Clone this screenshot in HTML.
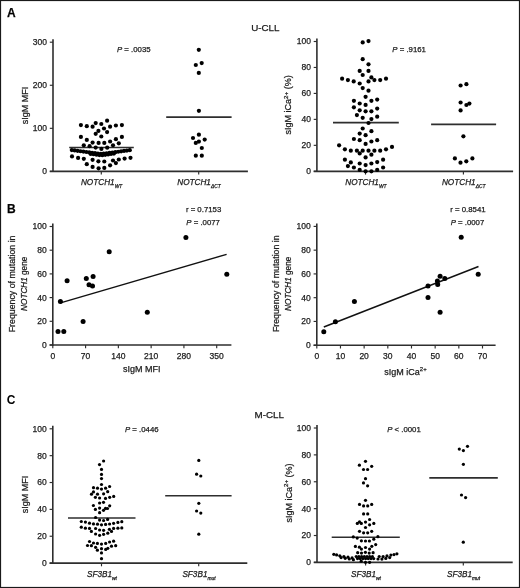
<!DOCTYPE html>
<html><head><meta charset="utf-8"><style>
html,body{margin:0;padding:0;background:#fff;}
svg{display:block;font-family:"Liberation Sans", sans-serif;will-change:transform;filter:blur(0.3px);}
text{stroke:#1c1c1c;stroke-width:0.25px;paint-order:fill;}
</style></head><body>
<svg width="520" height="588" viewBox="0 0 520 588">
<rect x="0.5" y="0.5" width="519" height="587" fill="#fff" stroke="#1a1a1a" stroke-width="1.2"/>
<text x="6.90" y="16.80" font-size="12" text-anchor="start" font-weight="bold" fill="#000">A</text>
<text x="7.00" y="213.00" font-size="12" text-anchor="start" font-weight="bold" fill="#000">B</text>
<text x="6.80" y="404.20" font-size="12" text-anchor="start" font-weight="bold" fill="#000" style="stroke-width:0">C</text>
<text x="265.30" y="31.30" font-size="9.8" text-anchor="middle" fill="#1c1c1c">U-CLL</text>
<text x="269.30" y="417.60" font-size="9.8" text-anchor="middle" fill="#1c1c1c">M-CLL</text>
<line x1="53.00" y1="39.20" x2="53.00" y2="172.10" stroke="#2e2e2e" stroke-width="1.6"/>
<line x1="49.80" y1="171.40" x2="53.00" y2="171.40" stroke="#2e2e2e" stroke-width="1.15"/>
<text x="47.00" y="174.30" font-size="8.5" text-anchor="end" fill="#1c1c1c">0</text>
<line x1="49.80" y1="128.33" x2="53.00" y2="128.33" stroke="#2e2e2e" stroke-width="1.15"/>
<text x="47.00" y="131.23" font-size="8.5" text-anchor="end" fill="#1c1c1c">100</text>
<line x1="49.80" y1="85.27" x2="53.00" y2="85.27" stroke="#2e2e2e" stroke-width="1.15"/>
<text x="47.00" y="88.17" font-size="8.5" text-anchor="end" fill="#1c1c1c">200</text>
<line x1="49.80" y1="42.20" x2="53.00" y2="42.20" stroke="#2e2e2e" stroke-width="1.15"/>
<text x="47.00" y="45.10" font-size="8.5" text-anchor="end" fill="#1c1c1c">300</text>
<line x1="49.80" y1="171.40" x2="247.90" y2="171.40" stroke="#2e2e2e" stroke-width="1.6"/>
<line x1="101.30" y1="171.40" x2="101.30" y2="174.60" stroke="#2e2e2e" stroke-width="1.15"/>
<line x1="198.70" y1="171.40" x2="198.70" y2="174.60" stroke="#2e2e2e" stroke-width="1.15"/>
<text x="27.60" y="105.60" font-size="9" text-anchor="middle" transform="rotate(-90 27.60 105.60)" fill="#1c1c1c">sIgM MFI</text>
<text x="117.00" y="52.00" font-size="7.8" text-anchor="start" fill="#1c1c1c"><tspan font-style="italic">P</tspan> = .0035</text>
<text x="101.60" y="184.60" font-size="8.2" text-anchor="middle" font-style="italic" fill="#1c1c1c">NOTCH1<tspan font-size="4.9" dy="3.0">WT</tspan></text>
<text x="199.00" y="184.60" font-size="8.2" text-anchor="middle" font-style="italic" fill="#1c1c1c">NOTCH1<tspan font-size="4.9" dy="3.0">ΔCT</tspan></text>
<line x1="69.20" y1="147.50" x2="133.80" y2="147.50" stroke="#2e2e2e" stroke-width="1.6"/>
<line x1="166.20" y1="117.10" x2="231.60" y2="117.10" stroke="#2e2e2e" stroke-width="1.6"/>
<circle cx="80.90" cy="125.10" r="2.1" fill="#000"/>
<circle cx="86.80" cy="126.20" r="2.1" fill="#000"/>
<circle cx="92.60" cy="126.70" r="2.1" fill="#000"/>
<circle cx="95.70" cy="123.10" r="2.1" fill="#000"/>
<circle cx="101.30" cy="124.00" r="2.1" fill="#000"/>
<circle cx="107.10" cy="120.70" r="2.1" fill="#000"/>
<circle cx="110.10" cy="126.70" r="2.1" fill="#000"/>
<circle cx="115.90" cy="125.50" r="2.1" fill="#000"/>
<circle cx="121.90" cy="125.10" r="2.1" fill="#000"/>
<circle cx="104.00" cy="128.50" r="2.1" fill="#000"/>
<circle cx="98.40" cy="130.90" r="2.1" fill="#000"/>
<circle cx="107.10" cy="132.10" r="2.1" fill="#000"/>
<circle cx="95.70" cy="133.80" r="2.1" fill="#000"/>
<circle cx="101.30" cy="136.50" r="2.1" fill="#000"/>
<circle cx="80.90" cy="136.90" r="2.1" fill="#000"/>
<circle cx="121.90" cy="136.90" r="2.1" fill="#000"/>
<circle cx="86.80" cy="139.90" r="2.1" fill="#000"/>
<circle cx="115.90" cy="139.20" r="2.1" fill="#000"/>
<circle cx="92.60" cy="142.60" r="2.1" fill="#000"/>
<circle cx="98.60" cy="142.90" r="2.1" fill="#000"/>
<circle cx="104.30" cy="142.90" r="2.1" fill="#000"/>
<circle cx="110.10" cy="141.50" r="2.1" fill="#000"/>
<circle cx="118.80" cy="143.30" r="2.1" fill="#000"/>
<circle cx="83.80" cy="145.30" r="2.1" fill="#000"/>
<circle cx="89.60" cy="146.20" r="2.1" fill="#000"/>
<circle cx="113.00" cy="145.30" r="2.1" fill="#000"/>
<circle cx="95.70" cy="147.60" r="2.1" fill="#000"/>
<circle cx="101.40" cy="148.90" r="2.1" fill="#000"/>
<circle cx="107.20" cy="147.70" r="2.1" fill="#000"/>
<circle cx="72.00" cy="156.40" r="2.1" fill="#000"/>
<circle cx="78.10" cy="157.90" r="2.1" fill="#000"/>
<circle cx="83.80" cy="158.80" r="2.1" fill="#000"/>
<circle cx="92.60" cy="159.80" r="2.1" fill="#000"/>
<circle cx="98.40" cy="161.30" r="2.1" fill="#000"/>
<circle cx="104.30" cy="161.50" r="2.1" fill="#000"/>
<circle cx="113.00" cy="160.50" r="2.1" fill="#000"/>
<circle cx="118.80" cy="159.50" r="2.1" fill="#000"/>
<circle cx="124.60" cy="158.60" r="2.1" fill="#000"/>
<circle cx="130.50" cy="157.80" r="2.1" fill="#000"/>
<circle cx="86.80" cy="164.20" r="2.1" fill="#000"/>
<circle cx="110.10" cy="165.30" r="2.1" fill="#000"/>
<circle cx="115.90" cy="163.10" r="2.1" fill="#000"/>
<circle cx="92.60" cy="166.90" r="2.1" fill="#000"/>
<circle cx="98.60" cy="168.30" r="2.1" fill="#000"/>
<circle cx="104.30" cy="167.90" r="2.1" fill="#000"/>
<circle cx="71.80" cy="150.07" r="2.1" fill="#000"/>
<circle cx="74.70" cy="150.45" r="2.1" fill="#000"/>
<circle cx="77.60" cy="150.84" r="2.1" fill="#000"/>
<circle cx="80.50" cy="151.23" r="2.1" fill="#000"/>
<circle cx="83.40" cy="151.61" r="2.1" fill="#000"/>
<circle cx="86.30" cy="152.00" r="2.1" fill="#000"/>
<circle cx="89.20" cy="152.39" r="2.1" fill="#000"/>
<circle cx="90.70" cy="153.89" r="2.1" fill="#000"/>
<circle cx="92.10" cy="152.77" r="2.1" fill="#000"/>
<circle cx="93.60" cy="154.27" r="2.1" fill="#000"/>
<circle cx="95.00" cy="153.16" r="2.1" fill="#000"/>
<circle cx="96.50" cy="154.66" r="2.1" fill="#000"/>
<circle cx="97.90" cy="153.55" r="2.1" fill="#000"/>
<circle cx="99.40" cy="155.05" r="2.1" fill="#000"/>
<circle cx="100.80" cy="153.93" r="2.1" fill="#000"/>
<circle cx="102.30" cy="155.17" r="2.1" fill="#000"/>
<circle cx="103.70" cy="153.68" r="2.1" fill="#000"/>
<circle cx="105.20" cy="154.78" r="2.1" fill="#000"/>
<circle cx="106.60" cy="153.29" r="2.1" fill="#000"/>
<circle cx="108.10" cy="154.39" r="2.1" fill="#000"/>
<circle cx="109.50" cy="152.91" r="2.1" fill="#000"/>
<circle cx="111.00" cy="154.01" r="2.1" fill="#000"/>
<circle cx="112.40" cy="152.52" r="2.1" fill="#000"/>
<circle cx="113.90" cy="153.62" r="2.1" fill="#000"/>
<circle cx="115.30" cy="152.13" r="2.1" fill="#000"/>
<circle cx="118.20" cy="151.75" r="2.1" fill="#000"/>
<circle cx="121.10" cy="151.36" r="2.1" fill="#000"/>
<circle cx="124.00" cy="150.97" r="2.1" fill="#000"/>
<circle cx="126.90" cy="150.59" r="2.1" fill="#000"/>
<circle cx="129.80" cy="150.20" r="2.1" fill="#000"/>
<circle cx="198.80" cy="49.80" r="2.1" fill="#000"/>
<circle cx="195.80" cy="65.00" r="2.1" fill="#000"/>
<circle cx="201.70" cy="63.10" r="2.1" fill="#000"/>
<circle cx="198.80" cy="72.90" r="2.1" fill="#000"/>
<circle cx="198.90" cy="110.80" r="2.1" fill="#000"/>
<circle cx="198.90" cy="134.70" r="2.1" fill="#000"/>
<circle cx="193.00" cy="138.00" r="2.1" fill="#000"/>
<circle cx="204.70" cy="139.60" r="2.1" fill="#000"/>
<circle cx="195.80" cy="142.90" r="2.1" fill="#000"/>
<circle cx="198.90" cy="141.60" r="2.1" fill="#000"/>
<circle cx="201.80" cy="148.00" r="2.1" fill="#000"/>
<circle cx="195.80" cy="155.70" r="2.1" fill="#000"/>
<circle cx="201.80" cy="155.70" r="2.1" fill="#000"/>
<line x1="316.90" y1="38.50" x2="316.90" y2="172.00" stroke="#2e2e2e" stroke-width="1.6"/>
<line x1="313.70" y1="171.30" x2="316.90" y2="171.30" stroke="#2e2e2e" stroke-width="1.15"/>
<text x="310.90" y="174.20" font-size="8.5" text-anchor="end" fill="#1c1c1c">0</text>
<line x1="313.70" y1="145.34" x2="316.90" y2="145.34" stroke="#2e2e2e" stroke-width="1.15"/>
<text x="310.90" y="148.24" font-size="8.5" text-anchor="end" fill="#1c1c1c">20</text>
<line x1="313.70" y1="119.38" x2="316.90" y2="119.38" stroke="#2e2e2e" stroke-width="1.15"/>
<text x="310.90" y="122.28" font-size="8.5" text-anchor="end" fill="#1c1c1c">40</text>
<line x1="313.70" y1="93.42" x2="316.90" y2="93.42" stroke="#2e2e2e" stroke-width="1.15"/>
<text x="310.90" y="96.32" font-size="8.5" text-anchor="end" fill="#1c1c1c">60</text>
<line x1="313.70" y1="67.46" x2="316.90" y2="67.46" stroke="#2e2e2e" stroke-width="1.15"/>
<text x="310.90" y="70.36" font-size="8.5" text-anchor="end" fill="#1c1c1c">80</text>
<line x1="313.70" y1="41.50" x2="316.90" y2="41.50" stroke="#2e2e2e" stroke-width="1.15"/>
<text x="310.90" y="44.40" font-size="8.5" text-anchor="end" fill="#1c1c1c">100</text>
<line x1="313.70" y1="171.40" x2="513.10" y2="171.40" stroke="#2e2e2e" stroke-width="1.6"/>
<line x1="365.50" y1="171.40" x2="365.50" y2="174.60" stroke="#2e2e2e" stroke-width="1.15"/>
<line x1="463.40" y1="171.40" x2="463.40" y2="174.60" stroke="#2e2e2e" stroke-width="1.15"/>
<text x="291.40" y="104.90" font-size="9" text-anchor="middle" transform="rotate(-90 291.40 104.90)" fill="#1c1c1c">sIgM iCa<tspan font-size="6.2" dy="-3.6">2+</tspan><tspan dy="3.6"> (%)</tspan></text>
<text x="392.30" y="51.90" font-size="7.8" text-anchor="start" fill="#1c1c1c"><tspan font-style="italic">P</tspan> = .9161</text>
<text x="365.90" y="184.60" font-size="8.2" text-anchor="middle" font-style="italic" fill="#1c1c1c">NOTCH1<tspan font-size="4.9" dy="3.0">WT</tspan></text>
<text x="463.70" y="184.60" font-size="8.2" text-anchor="middle" font-style="italic" fill="#1c1c1c">NOTCH1<tspan font-size="4.9" dy="3.0">ΔCT</tspan></text>
<line x1="333.00" y1="122.60" x2="398.80" y2="122.60" stroke="#2e2e2e" stroke-width="1.6"/>
<line x1="431.10" y1="124.40" x2="496.10" y2="124.40" stroke="#2e2e2e" stroke-width="1.6"/>
<circle cx="362.70" cy="42.40" r="2.1" fill="#000"/>
<circle cx="368.50" cy="41.10" r="2.1" fill="#000"/>
<circle cx="362.70" cy="59.20" r="2.1" fill="#000"/>
<circle cx="368.50" cy="64.30" r="2.1" fill="#000"/>
<circle cx="359.70" cy="70.90" r="2.1" fill="#000"/>
<circle cx="368.50" cy="70.90" r="2.1" fill="#000"/>
<circle cx="362.70" cy="75.00" r="2.1" fill="#000"/>
<circle cx="342.10" cy="78.70" r="2.1" fill="#000"/>
<circle cx="347.90" cy="80.10" r="2.1" fill="#000"/>
<circle cx="353.70" cy="81.40" r="2.1" fill="#000"/>
<circle cx="359.70" cy="83.50" r="2.1" fill="#000"/>
<circle cx="368.50" cy="81.40" r="2.1" fill="#000"/>
<circle cx="371.40" cy="77.40" r="2.1" fill="#000"/>
<circle cx="374.40" cy="80.10" r="2.1" fill="#000"/>
<circle cx="380.20" cy="80.10" r="2.1" fill="#000"/>
<circle cx="386.00" cy="78.70" r="2.1" fill="#000"/>
<circle cx="362.70" cy="88.10" r="2.1" fill="#000"/>
<circle cx="368.50" cy="90.70" r="2.1" fill="#000"/>
<circle cx="365.60" cy="96.80" r="2.1" fill="#000"/>
<circle cx="353.90" cy="100.80" r="2.1" fill="#000"/>
<circle cx="371.40" cy="100.80" r="2.1" fill="#000"/>
<circle cx="377.20" cy="99.60" r="2.1" fill="#000"/>
<circle cx="359.70" cy="103.50" r="2.1" fill="#000"/>
<circle cx="365.60" cy="104.90" r="2.1" fill="#000"/>
<circle cx="353.90" cy="107.30" r="2.1" fill="#000"/>
<circle cx="377.20" cy="108.60" r="2.1" fill="#000"/>
<circle cx="359.70" cy="110.30" r="2.1" fill="#000"/>
<circle cx="365.60" cy="111.30" r="2.1" fill="#000"/>
<circle cx="371.40" cy="111.30" r="2.1" fill="#000"/>
<circle cx="356.90" cy="115.10" r="2.1" fill="#000"/>
<circle cx="362.70" cy="117.80" r="2.1" fill="#000"/>
<circle cx="371.40" cy="119.10" r="2.1" fill="#000"/>
<circle cx="377.20" cy="116.70" r="2.1" fill="#000"/>
<circle cx="368.50" cy="123.00" r="2.1" fill="#000"/>
<circle cx="362.70" cy="128.50" r="2.1" fill="#000"/>
<circle cx="371.40" cy="131.20" r="2.1" fill="#000"/>
<circle cx="359.70" cy="133.60" r="2.1" fill="#000"/>
<circle cx="365.60" cy="135.20" r="2.1" fill="#000"/>
<circle cx="353.90" cy="139.00" r="2.1" fill="#000"/>
<circle cx="359.70" cy="140.20" r="2.1" fill="#000"/>
<circle cx="371.40" cy="141.50" r="2.1" fill="#000"/>
<circle cx="377.20" cy="140.20" r="2.1" fill="#000"/>
<circle cx="365.60" cy="143.90" r="2.1" fill="#000"/>
<circle cx="339.10" cy="145.30" r="2.1" fill="#000"/>
<circle cx="392.00" cy="146.90" r="2.1" fill="#000"/>
<circle cx="344.90" cy="149.30" r="2.1" fill="#000"/>
<circle cx="350.80" cy="150.70" r="2.1" fill="#000"/>
<circle cx="356.90" cy="150.70" r="2.1" fill="#000"/>
<circle cx="359.70" cy="153.40" r="2.1" fill="#000"/>
<circle cx="362.70" cy="150.70" r="2.1" fill="#000"/>
<circle cx="368.50" cy="150.70" r="2.1" fill="#000"/>
<circle cx="374.40" cy="150.70" r="2.1" fill="#000"/>
<circle cx="380.20" cy="150.70" r="2.1" fill="#000"/>
<circle cx="386.00" cy="149.30" r="2.1" fill="#000"/>
<circle cx="371.40" cy="154.70" r="2.1" fill="#000"/>
<circle cx="365.60" cy="157.40" r="2.1" fill="#000"/>
<circle cx="344.90" cy="159.70" r="2.1" fill="#000"/>
<circle cx="350.80" cy="162.40" r="2.1" fill="#000"/>
<circle cx="359.70" cy="163.50" r="2.1" fill="#000"/>
<circle cx="365.60" cy="165.10" r="2.1" fill="#000"/>
<circle cx="371.40" cy="163.50" r="2.1" fill="#000"/>
<circle cx="377.20" cy="162.10" r="2.1" fill="#000"/>
<circle cx="383.10" cy="159.70" r="2.1" fill="#000"/>
<circle cx="347.90" cy="166.10" r="2.1" fill="#000"/>
<circle cx="353.90" cy="167.50" r="2.1" fill="#000"/>
<circle cx="383.10" cy="167.50" r="2.1" fill="#000"/>
<circle cx="359.70" cy="169.90" r="2.1" fill="#000"/>
<circle cx="365.60" cy="171.30" r="2.1" fill="#000"/>
<circle cx="371.40" cy="171.30" r="2.1" fill="#000"/>
<circle cx="377.20" cy="169.90" r="2.1" fill="#000"/>
<circle cx="460.60" cy="85.50" r="2.1" fill="#000"/>
<circle cx="466.40" cy="84.20" r="2.1" fill="#000"/>
<circle cx="460.60" cy="102.50" r="2.1" fill="#000"/>
<circle cx="466.40" cy="105.00" r="2.1" fill="#000"/>
<circle cx="469.40" cy="103.60" r="2.1" fill="#000"/>
<circle cx="460.60" cy="110.40" r="2.1" fill="#000"/>
<circle cx="463.40" cy="136.30" r="2.1" fill="#000"/>
<circle cx="454.90" cy="158.40" r="2.1" fill="#000"/>
<circle cx="460.50" cy="162.70" r="2.1" fill="#000"/>
<circle cx="466.30" cy="161.30" r="2.1" fill="#000"/>
<circle cx="472.40" cy="158.40" r="2.1" fill="#000"/>
<line x1="52.80" y1="223.50" x2="52.80" y2="345.70" stroke="#2e2e2e" stroke-width="1.6"/>
<line x1="49.60" y1="345.00" x2="52.80" y2="345.00" stroke="#2e2e2e" stroke-width="1.15"/>
<text x="46.80" y="347.90" font-size="8.5" text-anchor="end" fill="#1c1c1c">0</text>
<line x1="49.60" y1="321.30" x2="52.80" y2="321.30" stroke="#2e2e2e" stroke-width="1.15"/>
<text x="46.80" y="324.20" font-size="8.5" text-anchor="end" fill="#1c1c1c">20</text>
<line x1="49.60" y1="297.60" x2="52.80" y2="297.60" stroke="#2e2e2e" stroke-width="1.15"/>
<text x="46.80" y="300.50" font-size="8.5" text-anchor="end" fill="#1c1c1c">40</text>
<line x1="49.60" y1="273.90" x2="52.80" y2="273.90" stroke="#2e2e2e" stroke-width="1.15"/>
<text x="46.80" y="276.80" font-size="8.5" text-anchor="end" fill="#1c1c1c">60</text>
<line x1="49.60" y1="250.20" x2="52.80" y2="250.20" stroke="#2e2e2e" stroke-width="1.15"/>
<text x="46.80" y="253.10" font-size="8.5" text-anchor="end" fill="#1c1c1c">80</text>
<line x1="49.60" y1="226.50" x2="52.80" y2="226.50" stroke="#2e2e2e" stroke-width="1.15"/>
<text x="46.80" y="229.40" font-size="8.5" text-anchor="end" fill="#1c1c1c">100</text>
<line x1="49.60" y1="345.00" x2="231.40" y2="345.00" stroke="#2e2e2e" stroke-width="1.6"/>
<line x1="52.80" y1="345.00" x2="52.80" y2="348.20" stroke="#2e2e2e" stroke-width="1.15"/>
<line x1="85.58" y1="345.00" x2="85.58" y2="348.20" stroke="#2e2e2e" stroke-width="1.15"/>
<line x1="118.36" y1="345.00" x2="118.36" y2="348.20" stroke="#2e2e2e" stroke-width="1.15"/>
<line x1="151.14" y1="345.00" x2="151.14" y2="348.20" stroke="#2e2e2e" stroke-width="1.15"/>
<line x1="183.92" y1="345.00" x2="183.92" y2="348.20" stroke="#2e2e2e" stroke-width="1.15"/>
<line x1="216.70" y1="345.00" x2="216.70" y2="348.20" stroke="#2e2e2e" stroke-width="1.15"/>
<text x="52.80" y="358.60" font-size="8.5" text-anchor="middle" fill="#1c1c1c">0</text>
<text x="85.58" y="358.60" font-size="8.5" text-anchor="middle" fill="#1c1c1c">70</text>
<text x="118.36" y="358.60" font-size="8.5" text-anchor="middle" fill="#1c1c1c">140</text>
<text x="151.14" y="358.60" font-size="8.5" text-anchor="middle" fill="#1c1c1c">210</text>
<text x="183.92" y="358.60" font-size="8.5" text-anchor="middle" fill="#1c1c1c">280</text>
<text x="216.70" y="358.60" font-size="8.5" text-anchor="middle" fill="#1c1c1c">350</text>
<text x="141.80" y="372.00" font-size="9" text-anchor="middle" fill="#1c1c1c">sIgM MFI</text>
<text x="15.50" y="283.90" font-size="8.8" text-anchor="middle" transform="rotate(-90 15.50 283.90)" fill="#1c1c1c">Frequency of mutation in</text>
<text x="27.20" y="283.80" font-size="8.2" text-anchor="middle" transform="rotate(-90 27.20 283.80)" fill="#1c1c1c"><tspan font-style="italic">NOTCH1</tspan> gene</text>
<text x="185.90" y="212.00" font-size="7.8" text-anchor="start" fill="#1c1c1c">r = 0.7153</text>
<text x="186.30" y="225.40" font-size="7.8" text-anchor="start" fill="#1c1c1c"><tspan font-style="italic">P</tspan> = .0077</text>
<line x1="60.50" y1="302.90" x2="226.60" y2="254.40" stroke="#111" stroke-width="1.5"/>
<circle cx="185.90" cy="237.50" r="2.5" fill="#000"/>
<circle cx="109.20" cy="251.80" r="2.5" fill="#000"/>
<circle cx="226.80" cy="274.30" r="2.5" fill="#000"/>
<circle cx="67.10" cy="280.80" r="2.5" fill="#000"/>
<circle cx="86.30" cy="278.50" r="2.5" fill="#000"/>
<circle cx="93.10" cy="276.50" r="2.5" fill="#000"/>
<circle cx="89.00" cy="284.80" r="2.5" fill="#000"/>
<circle cx="92.50" cy="286.10" r="2.5" fill="#000"/>
<circle cx="60.40" cy="301.40" r="2.5" fill="#000"/>
<circle cx="147.30" cy="312.20" r="2.5" fill="#000"/>
<circle cx="83.10" cy="321.60" r="2.5" fill="#000"/>
<circle cx="58.00" cy="331.60" r="2.5" fill="#000"/>
<circle cx="63.80" cy="331.60" r="2.5" fill="#000"/>
<line x1="316.80" y1="223.40" x2="316.80" y2="345.90" stroke="#2e2e2e" stroke-width="1.6"/>
<line x1="313.60" y1="345.20" x2="316.80" y2="345.20" stroke="#2e2e2e" stroke-width="1.15"/>
<text x="310.80" y="348.10" font-size="8.5" text-anchor="end" fill="#1c1c1c">0</text>
<line x1="313.60" y1="321.44" x2="316.80" y2="321.44" stroke="#2e2e2e" stroke-width="1.15"/>
<text x="310.80" y="324.34" font-size="8.5" text-anchor="end" fill="#1c1c1c">20</text>
<line x1="313.60" y1="297.68" x2="316.80" y2="297.68" stroke="#2e2e2e" stroke-width="1.15"/>
<text x="310.80" y="300.58" font-size="8.5" text-anchor="end" fill="#1c1c1c">40</text>
<line x1="313.60" y1="273.92" x2="316.80" y2="273.92" stroke="#2e2e2e" stroke-width="1.15"/>
<text x="310.80" y="276.82" font-size="8.5" text-anchor="end" fill="#1c1c1c">60</text>
<line x1="313.60" y1="250.16" x2="316.80" y2="250.16" stroke="#2e2e2e" stroke-width="1.15"/>
<text x="310.80" y="253.06" font-size="8.5" text-anchor="end" fill="#1c1c1c">80</text>
<line x1="313.60" y1="226.40" x2="316.80" y2="226.40" stroke="#2e2e2e" stroke-width="1.15"/>
<text x="310.80" y="229.30" font-size="8.5" text-anchor="end" fill="#1c1c1c">100</text>
<line x1="313.60" y1="345.30" x2="495.60" y2="345.30" stroke="#2e2e2e" stroke-width="1.6"/>
<line x1="316.80" y1="345.30" x2="316.80" y2="348.50" stroke="#2e2e2e" stroke-width="1.15"/>
<line x1="340.47" y1="345.30" x2="340.47" y2="348.50" stroke="#2e2e2e" stroke-width="1.15"/>
<line x1="364.14" y1="345.30" x2="364.14" y2="348.50" stroke="#2e2e2e" stroke-width="1.15"/>
<line x1="387.81" y1="345.30" x2="387.81" y2="348.50" stroke="#2e2e2e" stroke-width="1.15"/>
<line x1="411.49" y1="345.30" x2="411.49" y2="348.50" stroke="#2e2e2e" stroke-width="1.15"/>
<line x1="435.16" y1="345.30" x2="435.16" y2="348.50" stroke="#2e2e2e" stroke-width="1.15"/>
<line x1="458.83" y1="345.30" x2="458.83" y2="348.50" stroke="#2e2e2e" stroke-width="1.15"/>
<line x1="482.50" y1="345.30" x2="482.50" y2="348.50" stroke="#2e2e2e" stroke-width="1.15"/>
<text x="316.80" y="358.60" font-size="8.5" text-anchor="middle" fill="#1c1c1c">0</text>
<text x="340.47" y="358.60" font-size="8.5" text-anchor="middle" fill="#1c1c1c">10</text>
<text x="364.14" y="358.60" font-size="8.5" text-anchor="middle" fill="#1c1c1c">20</text>
<text x="387.81" y="358.60" font-size="8.5" text-anchor="middle" fill="#1c1c1c">30</text>
<text x="411.49" y="358.60" font-size="8.5" text-anchor="middle" fill="#1c1c1c">40</text>
<text x="435.16" y="358.60" font-size="8.5" text-anchor="middle" fill="#1c1c1c">50</text>
<text x="458.83" y="358.60" font-size="8.5" text-anchor="middle" fill="#1c1c1c">60</text>
<text x="482.50" y="358.60" font-size="8.5" text-anchor="middle" fill="#1c1c1c">70</text>
<text x="405.50" y="375.00" font-size="9" text-anchor="middle" fill="#1c1c1c">sIgM iCa<tspan font-size="6" dy="-3.6">2+</tspan></text>
<text x="279.50" y="283.70" font-size="8.8" text-anchor="middle" transform="rotate(-90 279.50 283.70)" fill="#1c1c1c">Frequency of mutation in</text>
<text x="291.20" y="283.80" font-size="8.2" text-anchor="middle" transform="rotate(-90 291.20 283.80)" fill="#1c1c1c"><tspan font-style="italic">NOTCH1</tspan> gene</text>
<text x="450.30" y="211.50" font-size="7.8" text-anchor="start" fill="#1c1c1c">r = 0.8541</text>
<text x="450.70" y="225.30" font-size="7.8" text-anchor="start" fill="#1c1c1c"><tspan font-style="italic">P</tspan> = .0007</text>
<line x1="323.80" y1="327.00" x2="478.50" y2="266.50" stroke="#111" stroke-width="1.5"/>
<circle cx="461.20" cy="237.30" r="2.5" fill="#000"/>
<circle cx="478.20" cy="274.30" r="2.5" fill="#000"/>
<circle cx="428.00" cy="286.10" r="2.5" fill="#000"/>
<circle cx="428.00" cy="297.50" r="2.5" fill="#000"/>
<circle cx="440.10" cy="276.20" r="2.5" fill="#000"/>
<circle cx="444.80" cy="278.60" r="2.5" fill="#000"/>
<circle cx="437.40" cy="281.00" r="2.5" fill="#000"/>
<circle cx="437.70" cy="284.60" r="2.5" fill="#000"/>
<circle cx="440.10" cy="312.20" r="2.5" fill="#000"/>
<circle cx="354.40" cy="301.60" r="2.5" fill="#000"/>
<circle cx="335.40" cy="321.70" r="2.5" fill="#000"/>
<circle cx="323.80" cy="331.70" r="2.5" fill="#000"/>
<line x1="52.80" y1="425.80" x2="52.80" y2="563.80" stroke="#2e2e2e" stroke-width="1.6"/>
<line x1="49.60" y1="563.10" x2="52.80" y2="563.10" stroke="#2e2e2e" stroke-width="1.15"/>
<text x="46.80" y="566.00" font-size="8.5" text-anchor="end" fill="#1c1c1c">0</text>
<line x1="49.60" y1="536.24" x2="52.80" y2="536.24" stroke="#2e2e2e" stroke-width="1.15"/>
<text x="46.80" y="539.14" font-size="8.5" text-anchor="end" fill="#1c1c1c">20</text>
<line x1="49.60" y1="509.38" x2="52.80" y2="509.38" stroke="#2e2e2e" stroke-width="1.15"/>
<text x="46.80" y="512.28" font-size="8.5" text-anchor="end" fill="#1c1c1c">40</text>
<line x1="49.60" y1="482.52" x2="52.80" y2="482.52" stroke="#2e2e2e" stroke-width="1.15"/>
<text x="46.80" y="485.42" font-size="8.5" text-anchor="end" fill="#1c1c1c">60</text>
<line x1="49.60" y1="455.66" x2="52.80" y2="455.66" stroke="#2e2e2e" stroke-width="1.15"/>
<text x="46.80" y="458.56" font-size="8.5" text-anchor="end" fill="#1c1c1c">80</text>
<line x1="49.60" y1="428.80" x2="52.80" y2="428.80" stroke="#2e2e2e" stroke-width="1.15"/>
<text x="46.80" y="431.70" font-size="8.5" text-anchor="end" fill="#1c1c1c">100</text>
<line x1="49.60" y1="563.10" x2="247.30" y2="563.10" stroke="#2e2e2e" stroke-width="1.6"/>
<line x1="101.50" y1="563.10" x2="101.50" y2="566.30" stroke="#2e2e2e" stroke-width="1.15"/>
<line x1="198.70" y1="563.10" x2="198.70" y2="566.30" stroke="#2e2e2e" stroke-width="1.15"/>
<text x="27.80" y="494.50" font-size="9" text-anchor="middle" transform="rotate(-90 27.80 494.50)" fill="#1c1c1c">sIgM MFI</text>
<text x="125.00" y="431.70" font-size="7.8" text-anchor="start" fill="#1c1c1c"><tspan font-style="italic">P</tspan> = .0446</text>
<text x="101.90" y="576.60" font-size="8.2" text-anchor="middle" font-style="italic" fill="#1c1c1c">SF3B1<tspan font-size="4.9" dy="3.0">wt</tspan></text>
<text x="199.00" y="576.60" font-size="8.2" text-anchor="middle" font-style="italic" fill="#1c1c1c">SF3B1<tspan font-size="4.9" dy="3.0">mut</tspan></text>
<line x1="68.00" y1="518.00" x2="135.50" y2="518.00" stroke="#2e2e2e" stroke-width="1.6"/>
<line x1="165.20" y1="495.70" x2="231.60" y2="495.70" stroke="#2e2e2e" stroke-width="1.6"/>
<circle cx="103.60" cy="461.00" r="1.6" fill="#000"/>
<circle cx="99.50" cy="464.60" r="1.6" fill="#000"/>
<circle cx="101.50" cy="469.40" r="1.6" fill="#000"/>
<circle cx="101.50" cy="474.40" r="1.6" fill="#000"/>
<circle cx="101.50" cy="478.60" r="1.6" fill="#000"/>
<circle cx="101.50" cy="484.50" r="1.6" fill="#000"/>
<circle cx="93.50" cy="487.70" r="1.6" fill="#000"/>
<circle cx="97.50" cy="488.20" r="1.6" fill="#000"/>
<circle cx="101.50" cy="489.10" r="1.6" fill="#000"/>
<circle cx="105.60" cy="488.20" r="1.6" fill="#000"/>
<circle cx="109.60" cy="486.50" r="1.6" fill="#000"/>
<circle cx="93.50" cy="491.90" r="1.6" fill="#000"/>
<circle cx="107.70" cy="491.70" r="1.6" fill="#000"/>
<circle cx="91.50" cy="494.20" r="1.6" fill="#000"/>
<circle cx="97.50" cy="494.20" r="1.6" fill="#000"/>
<circle cx="103.60" cy="493.80" r="1.6" fill="#000"/>
<circle cx="95.40" cy="497.30" r="1.6" fill="#000"/>
<circle cx="99.60" cy="498.00" r="1.6" fill="#000"/>
<circle cx="105.50" cy="498.40" r="1.6" fill="#000"/>
<circle cx="109.70" cy="497.30" r="1.6" fill="#000"/>
<circle cx="113.70" cy="496.40" r="1.6" fill="#000"/>
<circle cx="99.60" cy="503.00" r="1.6" fill="#000"/>
<circle cx="103.50" cy="502.30" r="1.6" fill="#000"/>
<circle cx="93.40" cy="505.50" r="1.6" fill="#000"/>
<circle cx="109.70" cy="505.80" r="1.6" fill="#000"/>
<circle cx="99.60" cy="508.10" r="1.6" fill="#000"/>
<circle cx="95.40" cy="509.40" r="1.6" fill="#000"/>
<circle cx="105.50" cy="508.40" r="1.6" fill="#000"/>
<circle cx="107.50" cy="508.50" r="1.6" fill="#000"/>
<circle cx="103.50" cy="510.30" r="1.6" fill="#000"/>
<circle cx="99.60" cy="512.70" r="1.6" fill="#000"/>
<circle cx="95.60" cy="517.50" r="1.6" fill="#000"/>
<circle cx="99.60" cy="520.10" r="1.6" fill="#000"/>
<circle cx="103.60" cy="520.50" r="1.6" fill="#000"/>
<circle cx="107.60" cy="519.40" r="1.6" fill="#000"/>
<circle cx="81.30" cy="521.50" r="1.6" fill="#000"/>
<circle cx="85.40" cy="522.10" r="1.6" fill="#000"/>
<circle cx="89.50" cy="523.20" r="1.6" fill="#000"/>
<circle cx="93.50" cy="523.90" r="1.6" fill="#000"/>
<circle cx="97.50" cy="524.20" r="1.6" fill="#000"/>
<circle cx="101.50" cy="524.80" r="1.6" fill="#000"/>
<circle cx="105.60" cy="524.40" r="1.6" fill="#000"/>
<circle cx="109.60" cy="524.00" r="1.6" fill="#000"/>
<circle cx="113.60" cy="523.30" r="1.6" fill="#000"/>
<circle cx="117.90" cy="522.40" r="1.6" fill="#000"/>
<circle cx="121.80" cy="521.70" r="1.6" fill="#000"/>
<circle cx="81.30" cy="527.20" r="1.6" fill="#000"/>
<circle cx="85.40" cy="528.20" r="1.6" fill="#000"/>
<circle cx="89.50" cy="528.40" r="1.6" fill="#000"/>
<circle cx="91.40" cy="531.40" r="1.6" fill="#000"/>
<circle cx="95.60" cy="528.50" r="1.6" fill="#000"/>
<circle cx="99.60" cy="530.00" r="1.6" fill="#000"/>
<circle cx="103.60" cy="530.30" r="1.6" fill="#000"/>
<circle cx="109.40" cy="529.30" r="1.6" fill="#000"/>
<circle cx="111.50" cy="531.40" r="1.6" fill="#000"/>
<circle cx="113.60" cy="528.40" r="1.6" fill="#000"/>
<circle cx="117.90" cy="528.20" r="1.6" fill="#000"/>
<circle cx="121.80" cy="527.90" r="1.6" fill="#000"/>
<circle cx="95.60" cy="534.00" r="1.6" fill="#000"/>
<circle cx="99.60" cy="535.30" r="1.6" fill="#000"/>
<circle cx="103.60" cy="534.30" r="1.6" fill="#000"/>
<circle cx="107.80" cy="533.20" r="1.6" fill="#000"/>
<circle cx="89.50" cy="541.50" r="1.6" fill="#000"/>
<circle cx="93.50" cy="543.00" r="1.6" fill="#000"/>
<circle cx="97.40" cy="543.40" r="1.6" fill="#000"/>
<circle cx="101.50" cy="544.10" r="1.6" fill="#000"/>
<circle cx="105.70" cy="543.40" r="1.6" fill="#000"/>
<circle cx="109.60" cy="542.00" r="1.6" fill="#000"/>
<circle cx="113.60" cy="541.20" r="1.6" fill="#000"/>
<circle cx="87.50" cy="545.50" r="1.6" fill="#000"/>
<circle cx="91.40" cy="545.70" r="1.6" fill="#000"/>
<circle cx="115.70" cy="545.70" r="1.6" fill="#000"/>
<circle cx="111.50" cy="546.20" r="1.6" fill="#000"/>
<circle cx="95.60" cy="547.30" r="1.6" fill="#000"/>
<circle cx="101.50" cy="548.70" r="1.6" fill="#000"/>
<circle cx="105.70" cy="549.40" r="1.6" fill="#000"/>
<circle cx="107.80" cy="548.30" r="1.6" fill="#000"/>
<circle cx="97.40" cy="550.20" r="1.6" fill="#000"/>
<circle cx="101.50" cy="552.90" r="1.6" fill="#000"/>
<circle cx="101.50" cy="558.70" r="1.6" fill="#000"/>
<circle cx="198.80" cy="460.40" r="1.6" fill="#000"/>
<circle cx="196.60" cy="474.20" r="1.6" fill="#000"/>
<circle cx="200.80" cy="476.00" r="1.6" fill="#000"/>
<circle cx="198.80" cy="503.30" r="1.6" fill="#000"/>
<circle cx="196.60" cy="511.00" r="1.6" fill="#000"/>
<circle cx="200.80" cy="513.10" r="1.6" fill="#000"/>
<circle cx="198.80" cy="534.20" r="1.6" fill="#000"/>
<line x1="317.00" y1="425.00" x2="317.00" y2="563.10" stroke="#2e2e2e" stroke-width="1.6"/>
<line x1="313.80" y1="562.40" x2="317.00" y2="562.40" stroke="#2e2e2e" stroke-width="1.15"/>
<text x="311.00" y="565.30" font-size="8.5" text-anchor="end" fill="#1c1c1c">0</text>
<line x1="313.80" y1="535.52" x2="317.00" y2="535.52" stroke="#2e2e2e" stroke-width="1.15"/>
<text x="311.00" y="538.42" font-size="8.5" text-anchor="end" fill="#1c1c1c">20</text>
<line x1="313.80" y1="508.64" x2="317.00" y2="508.64" stroke="#2e2e2e" stroke-width="1.15"/>
<text x="311.00" y="511.54" font-size="8.5" text-anchor="end" fill="#1c1c1c">40</text>
<line x1="313.80" y1="481.76" x2="317.00" y2="481.76" stroke="#2e2e2e" stroke-width="1.15"/>
<text x="311.00" y="484.66" font-size="8.5" text-anchor="end" fill="#1c1c1c">60</text>
<line x1="313.80" y1="454.88" x2="317.00" y2="454.88" stroke="#2e2e2e" stroke-width="1.15"/>
<text x="311.00" y="457.78" font-size="8.5" text-anchor="end" fill="#1c1c1c">80</text>
<line x1="313.80" y1="428.00" x2="317.00" y2="428.00" stroke="#2e2e2e" stroke-width="1.15"/>
<text x="311.00" y="430.90" font-size="8.5" text-anchor="end" fill="#1c1c1c">100</text>
<line x1="313.80" y1="562.40" x2="512.70" y2="562.40" stroke="#2e2e2e" stroke-width="1.6"/>
<line x1="365.60" y1="562.40" x2="365.60" y2="565.60" stroke="#2e2e2e" stroke-width="1.15"/>
<line x1="463.30" y1="562.40" x2="463.30" y2="565.60" stroke="#2e2e2e" stroke-width="1.15"/>
<text x="291.50" y="493.00" font-size="9" text-anchor="middle" transform="rotate(-90 291.50 493.00)" fill="#1c1c1c">sIgM iCa<tspan font-size="6.2" dy="-3.6">2+</tspan><tspan dy="3.6"> (%)</tspan></text>
<text x="387.20" y="431.70" font-size="7.8" text-anchor="start" fill="#1c1c1c"><tspan font-style="italic">P</tspan> &lt; .0001</text>
<text x="366.00" y="576.60" font-size="8.2" text-anchor="middle" font-style="italic" fill="#1c1c1c">SF3B1<tspan font-size="4.9" dy="3.0">wt</tspan></text>
<text x="463.60" y="576.60" font-size="8.2" text-anchor="middle" font-style="italic" fill="#1c1c1c">SF3B1<tspan font-size="4.9" dy="3.0">mut</tspan></text>
<line x1="331.70" y1="537.30" x2="399.80" y2="537.30" stroke="#2e2e2e" stroke-width="1.6"/>
<line x1="429.30" y1="477.90" x2="497.80" y2="477.90" stroke="#2e2e2e" stroke-width="1.6"/>
<circle cx="365.50" cy="461.30" r="1.6" fill="#000"/>
<circle cx="359.40" cy="465.20" r="1.6" fill="#000"/>
<circle cx="371.70" cy="466.30" r="1.6" fill="#000"/>
<circle cx="363.50" cy="469.50" r="1.6" fill="#000"/>
<circle cx="367.60" cy="469.50" r="1.6" fill="#000"/>
<circle cx="365.50" cy="478.70" r="1.6" fill="#000"/>
<circle cx="363.50" cy="482.90" r="1.6" fill="#000"/>
<circle cx="367.60" cy="485.80" r="1.6" fill="#000"/>
<circle cx="365.50" cy="500.30" r="1.6" fill="#000"/>
<circle cx="359.50" cy="504.40" r="1.6" fill="#000"/>
<circle cx="363.60" cy="505.90" r="1.6" fill="#000"/>
<circle cx="367.70" cy="505.90" r="1.6" fill="#000"/>
<circle cx="371.70" cy="504.40" r="1.6" fill="#000"/>
<circle cx="363.60" cy="513.90" r="1.6" fill="#000"/>
<circle cx="367.70" cy="513.90" r="1.6" fill="#000"/>
<circle cx="369.60" cy="519.50" r="1.6" fill="#000"/>
<circle cx="357.30" cy="523.40" r="1.6" fill="#000"/>
<circle cx="359.50" cy="521.90" r="1.6" fill="#000"/>
<circle cx="361.30" cy="523.40" r="1.6" fill="#000"/>
<circle cx="365.50" cy="522.10" r="1.6" fill="#000"/>
<circle cx="369.60" cy="524.80" r="1.6" fill="#000"/>
<circle cx="373.80" cy="523.40" r="1.6" fill="#000"/>
<circle cx="365.50" cy="527.50" r="1.6" fill="#000"/>
<circle cx="359.50" cy="531.30" r="1.6" fill="#000"/>
<circle cx="363.60" cy="532.80" r="1.6" fill="#000"/>
<circle cx="367.70" cy="532.80" r="1.6" fill="#000"/>
<circle cx="371.70" cy="531.30" r="1.6" fill="#000"/>
<circle cx="353.30" cy="536.90" r="1.6" fill="#000"/>
<circle cx="357.20" cy="538.10" r="1.6" fill="#000"/>
<circle cx="377.90" cy="536.70" r="1.6" fill="#000"/>
<circle cx="373.80" cy="539.20" r="1.6" fill="#000"/>
<circle cx="361.40" cy="540.80" r="1.6" fill="#000"/>
<circle cx="365.50" cy="541.00" r="1.6" fill="#000"/>
<circle cx="369.40" cy="541.00" r="1.6" fill="#000"/>
<circle cx="355.40" cy="546.40" r="1.6" fill="#000"/>
<circle cx="359.40" cy="547.20" r="1.6" fill="#000"/>
<circle cx="361.40" cy="549.10" r="1.6" fill="#000"/>
<circle cx="365.50" cy="547.50" r="1.6" fill="#000"/>
<circle cx="369.60" cy="549.10" r="1.6" fill="#000"/>
<circle cx="371.80" cy="546.30" r="1.6" fill="#000"/>
<circle cx="375.70" cy="544.60" r="1.6" fill="#000"/>
<circle cx="365.50" cy="562.30" r="1.6" fill="#000"/>
<circle cx="369.60" cy="562.30" r="1.6" fill="#000"/>
<circle cx="357.70" cy="552.70" r="1.6" fill="#000"/>
<circle cx="361.50" cy="553.10" r="1.6" fill="#000"/>
<circle cx="365.40" cy="552.30" r="1.6" fill="#000"/>
<circle cx="369.20" cy="553.10" r="1.6" fill="#000"/>
<circle cx="373.10" cy="552.70" r="1.6" fill="#000"/>
<circle cx="361.20" cy="561.20" r="1.6" fill="#000"/>
<circle cx="333.80" cy="554.30" r="1.6" fill="#000"/>
<circle cx="396.90" cy="553.80" r="1.6" fill="#000"/>
<circle cx="336.60" cy="554.90" r="1.6" fill="#000"/>
<circle cx="394.00" cy="554.60" r="1.6" fill="#000"/>
<circle cx="339.80" cy="555.80" r="1.6" fill="#000"/>
<circle cx="341.10" cy="557.60" r="1.6" fill="#000"/>
<circle cx="343.90" cy="556.50" r="1.6" fill="#000"/>
<circle cx="345.20" cy="558.30" r="1.6" fill="#000"/>
<circle cx="348.00" cy="557.20" r="1.6" fill="#000"/>
<circle cx="349.30" cy="559.00" r="1.6" fill="#000"/>
<circle cx="352.10" cy="557.90" r="1.6" fill="#000"/>
<circle cx="353.40" cy="559.70" r="1.6" fill="#000"/>
<circle cx="356.20" cy="556.50" r="1.6" fill="#000"/>
<circle cx="357.50" cy="558.60" r="1.6" fill="#000"/>
<circle cx="358.90" cy="556.50" r="1.6" fill="#000"/>
<circle cx="360.20" cy="558.60" r="1.6" fill="#000"/>
<circle cx="361.60" cy="556.50" r="1.6" fill="#000"/>
<circle cx="362.90" cy="558.60" r="1.6" fill="#000"/>
<circle cx="364.30" cy="556.50" r="1.6" fill="#000"/>
<circle cx="365.60" cy="558.60" r="1.6" fill="#000"/>
<circle cx="367.00" cy="556.50" r="1.6" fill="#000"/>
<circle cx="368.30" cy="558.60" r="1.6" fill="#000"/>
<circle cx="369.70" cy="556.50" r="1.6" fill="#000"/>
<circle cx="371.00" cy="558.60" r="1.6" fill="#000"/>
<circle cx="372.40" cy="556.50" r="1.6" fill="#000"/>
<circle cx="373.70" cy="558.60" r="1.6" fill="#000"/>
<circle cx="379.20" cy="556.50" r="1.6" fill="#000"/>
<circle cx="378.00" cy="559.00" r="1.6" fill="#000"/>
<circle cx="383.10" cy="556.60" r="1.6" fill="#000"/>
<circle cx="381.90" cy="559.10" r="1.6" fill="#000"/>
<circle cx="387.00" cy="555.90" r="1.6" fill="#000"/>
<circle cx="385.80" cy="558.40" r="1.6" fill="#000"/>
<circle cx="390.90" cy="555.10" r="1.6" fill="#000"/>
<circle cx="389.70" cy="557.60" r="1.6" fill="#000"/>
<circle cx="467.50" cy="446.30" r="1.6" fill="#000"/>
<circle cx="459.30" cy="449.10" r="1.6" fill="#000"/>
<circle cx="463.40" cy="450.60" r="1.6" fill="#000"/>
<circle cx="463.40" cy="464.30" r="1.6" fill="#000"/>
<circle cx="461.50" cy="495.00" r="1.6" fill="#000"/>
<circle cx="465.60" cy="497.60" r="1.6" fill="#000"/>
<circle cx="463.30" cy="542.20" r="1.6" fill="#000"/>
</svg>
</body></html>
